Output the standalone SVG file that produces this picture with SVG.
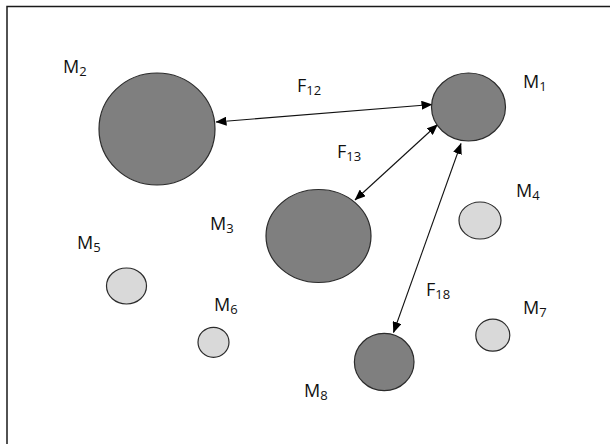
<svg xmlns="http://www.w3.org/2000/svg" width="610" height="444" viewBox="0 0 610 444">
<defs>
<style>
.dark{fill:#7f7f7f;stroke:#2b2b2b;stroke-width:1.2}
.light{fill:#d9d9d9;stroke:#2b2b2b;stroke-width:1.2}
.lbl{font-family:"Open Sans","Liberation Sans",Arial,sans-serif;font-size:18px;fill:#111}
.sub{font-size:13px}
.conn{stroke:#111;stroke-width:1.1;fill:none;marker-start:url(#ah);marker-end:url(#ah)}
</style>
<marker id="ah" markerUnits="userSpaceOnUse" markerWidth="11" markerHeight="9" refX="10.5" refY="4.5" orient="auto-start-reverse" viewBox="0 0 11 9">
<path d="M0,0 L11,4.5 L0,9 z" fill="#000"/>
</marker>
</defs>
<rect width="610" height="444" fill="#fff"/>
<path d="M7,444 V6.5 H610" fill="none" stroke="#1a1a1a" stroke-width="1.5"/>
<g id="connectors">
<line class="conn" x1="216" y1="122" x2="432" y2="104.5"/>
<line class="conn" x1="437.5" y1="124.5" x2="355" y2="200"/>
<line class="conn" x1="461" y1="143.5" x2="393.5" y2="332.5"/>
</g>
<g id="M2"><ellipse class="dark" cx="157" cy="129" rx="58" ry="56"/><text class="lbl" x="63" y="73">M<tspan class="sub" dy="3">2</tspan></text></g>
<g id="M1"><ellipse class="dark" cx="468.5" cy="107" rx="37" ry="34"/><text class="lbl" x="523" y="88">M<tspan class="sub" dy="3">1</tspan></text></g>
<g id="M3"><ellipse class="dark" cx="318.5" cy="236" rx="52.5" ry="46.5"/><text class="lbl" x="210" y="230">M<tspan class="sub" dy="3">3</tspan></text></g>
<g id="M4"><ellipse class="light" cx="480" cy="220.5" rx="21" ry="18.5"/><text class="lbl" x="516" y="197">M<tspan class="sub" dy="3">4</tspan></text></g>
<g id="M5"><ellipse class="light" cx="126.5" cy="286" rx="20" ry="18"/><text class="lbl" x="77" y="249">M<tspan class="sub" dy="3">5</tspan></text></g>
<g id="M6"><ellipse class="light" cx="213.5" cy="342.3" rx="15.5" ry="15"/><text class="lbl" x="214" y="311">M<tspan class="sub" dy="3">6</tspan></text></g>
<g id="M7"><ellipse class="light" cx="492.8" cy="335.2" rx="17" ry="16"/><text class="lbl" x="523" y="314">M<tspan class="sub" dy="3">7</tspan></text></g>
<g id="M8"><ellipse class="dark" cx="384.2" cy="362" rx="29.8" ry="28.7"/><text class="lbl" x="304" y="397">M<tspan class="sub" dy="3">8</tspan></text></g>
<g id="labels">
<text class="lbl" x="297" y="92">F<tspan class="sub" dy="3">12</tspan></text>
<text class="lbl" x="337" y="158">F<tspan class="sub" dy="3">13</tspan></text>
<text class="lbl" x="426" y="296">F<tspan class="sub" dy="3">18</tspan></text>
</g>
</svg>
